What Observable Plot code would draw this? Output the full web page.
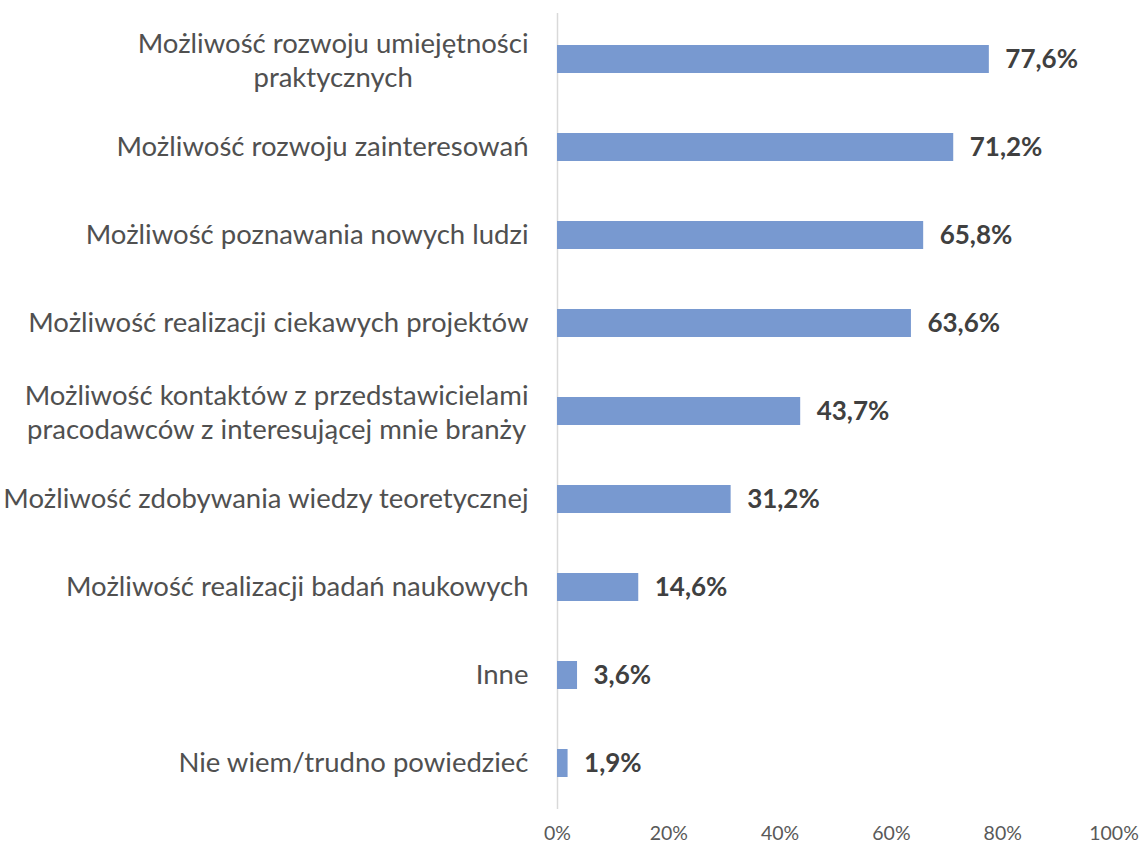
<!DOCTYPE html>
<html>
<head>
<meta charset="utf-8">
<script src="https://cdn.jsdelivr.net/npm/d3@7"></script>
<script src="https://cdn.jsdelivr.net/npm/@observablehq/plot@0.6"></script>
<style>
  html, body { margin: 0; padding: 0; background: #fff; }
  body { width: 1143px; height: 850px; overflow: hidden; }
</style>
</head>
<body>
<div id="chart"></div>
<script>
const categories = [
  "Możliwość rozwoju umiejętności\npraktycznych",
  "Możliwość rozwoju zainteresowań",
  "Możliwość poznawania nowych ludzi",
  "Możliwość realizacji ciekawych projektów",
  "Możliwość kontaktów z przedstawicielami\npracodawców z interesującej mnie branży",
  "Możliwość zdobywania wiedzy teoretycznej",
  "Możliwość realizacji badań naukowych",
  "Inne",
  "Nie wiem/trudno powiedzieć"
];
const values = [0.776, 0.712, 0.658, 0.636, 0.437, 0.312, 0.146, 0.036, 0.019];
const xTicks = [0, 0.2, 0.4, 0.6, 0.8, 1.0];

const data = categories.map((c, i) => ({category: c, value: values[i]}));
const fmtPct = v => d3.format(".1f")(v * 100).replace(".", ",") + "%";

const chart = Plot.plot({
  width: 1143,
  height: 850,
  marginLeft: 557,
  marginRight: 29.5,
  marginTop: 13,
  marginBottom: 41,
  style: {fontFamily: "Lato, sans-serif", color: "#595959", background: "#fff"},
  x: {
    domain: [0, 1],
    ticks: xTicks,
    tickFormat: d => d3.format(".0%")(d),
    tickSize: 0,
    tickPadding: 17,
    label: null
  },
  y: {
    domain: categories,
    paddingInner: 0.68,
    paddingOuter: 0.34,
    tickSize: 0,
    tickPadding: 29,
    label: null
  },
  marks: [
    Plot.ruleX([0], {stroke: "#d9d9d9", strokeWidth: 1.5}),
    Plot.barX(data, {x: "value", y: "category", fill: "#7899d0"}),
    Plot.text(data, {
      x: "value", y: "category", text: d => fmtPct(d.value),
      textAnchor: "start", dx: 16, fontWeight: "bold", fontSize: 26, fill: "#404040"
    })
  ]
});
document.getElementById("chart").appendChild(chart);

const svg = d3.select(chart);
svg.selectAll('g[aria-label="x-axis tick label"]').attr("font-size", 19.5).attr("fill", "#595959");
svg.selectAll('g[aria-label="y-axis tick label"]').attr("font-size", 27.5).attr("fill", "#505050");

// Center the lines of multi-line category labels and space them as in the reference
const lineStep = 34;
svg.selectAll('g[aria-label="y-axis tick label"] text').each(function() {
  const tspans = Array.from(this.querySelectorAll("tspan"));
  if (tspans.length > 1) {
    const n = tspans.length;
    const w = d3.max(tspans, t => t.getComputedTextLength());
    this.setAttribute("text-anchor", "middle");
    this.removeAttribute("y");
    this.removeAttribute("dy");
    tspans.forEach((t, i) => {
      t.removeAttribute("dy");
      t.setAttribute("x", -w / 2);
      t.setAttribute("y", (i - (n - 1) / 2) * lineStep);
      t.setAttribute("dy", "0.38em");
    });
  }
});
</script>
</body>
</html>
